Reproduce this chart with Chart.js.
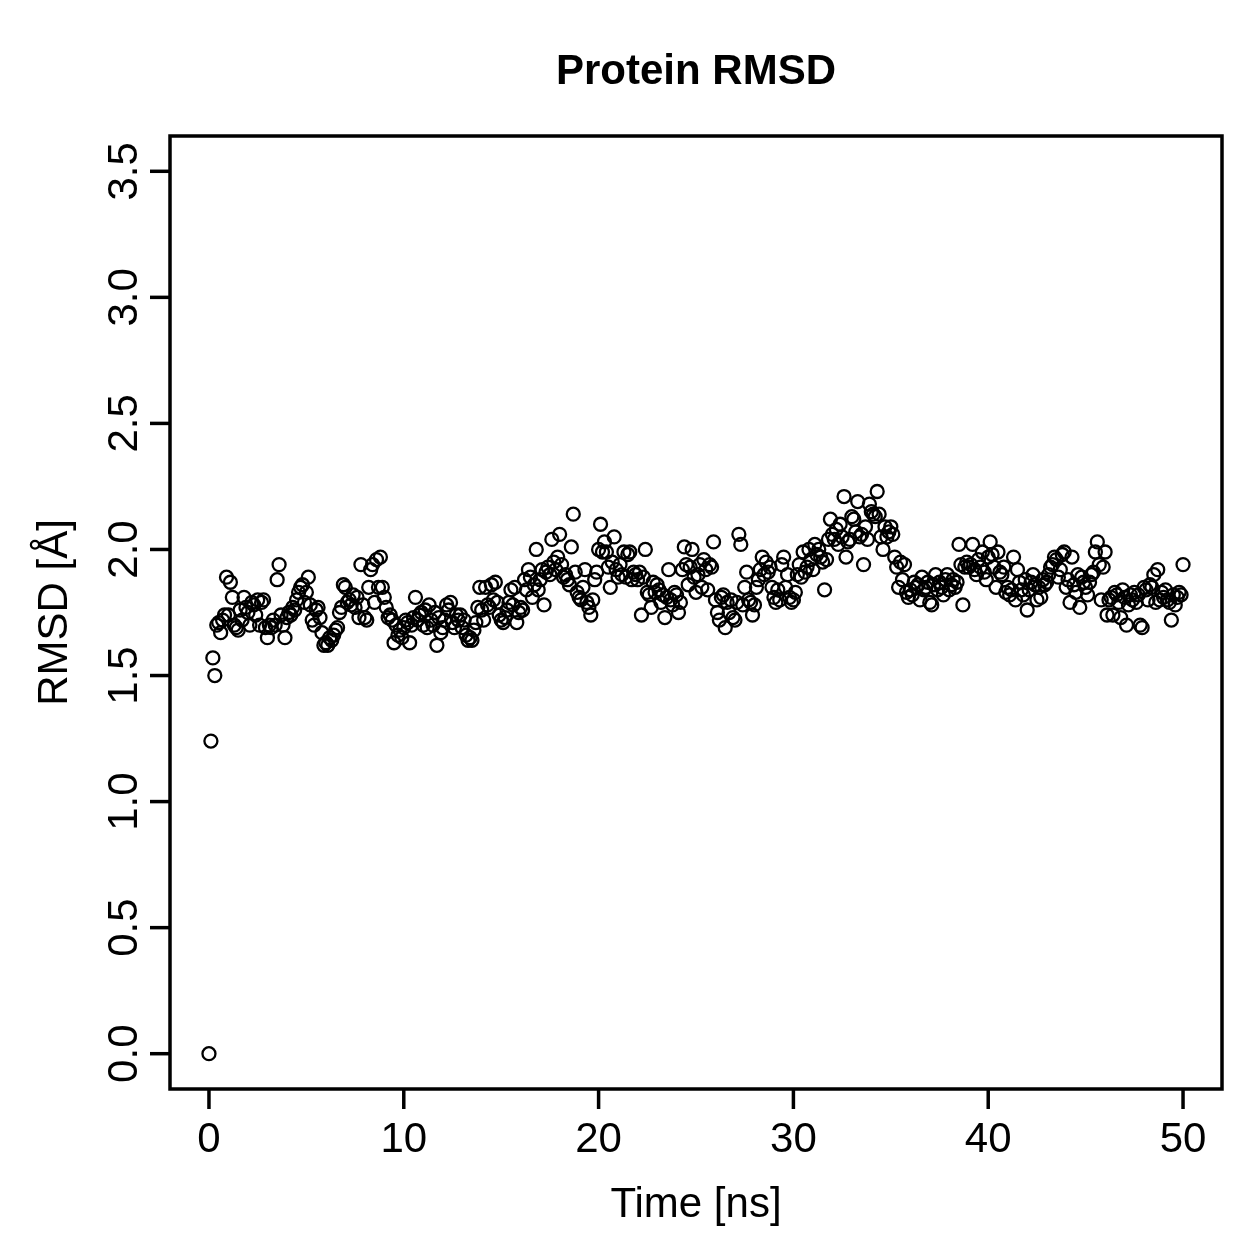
<!DOCTYPE html>
<html>
<head>
<meta charset="utf-8">
<script src="https://cdn.jsdelivr.net/npm/chart.js@4/dist/chart.umd.min.js"></script>
<style>
  html, body { margin: 0; padding: 0; background: #fff; }
  canvas { display: block; }
</style>
</head>
<body>
<canvas id="rmsdChart" width="1259" height="1259"></canvas>
<script>
// Protein RMSD over 50 ns, one frame every 0.1 ns
var chartTitle = "Protein RMSD";
var xTitle = "Time [ns]";
var yTitle = "RMSD [Å]";
var xTicks = [0, 10, 20, 30, 40, 50];
var yTicks = [0.0, 0.5, 1.0, 1.5, 2.0, 2.5, 3.0, 3.5];
var timeStep = 0.1;

var rmsd = [
    0.00, 1.24, 1.57, 1.50, 1.70, 1.71, 1.67, 1.72, 1.74, 1.89,
    1.74, 1.87, 1.81, 1.70, 1.69, 1.68, 1.76, 1.72, 1.81, 1.77,
    1.75, 1.70, 1.79, 1.78, 1.74, 1.80, 1.70, 1.79, 1.80, 1.69,
    1.65, 1.70, 1.69, 1.72, 1.70, 1.88, 1.94, 1.74, 1.70, 1.65,
    1.73, 1.75, 1.74, 1.77, 1.76, 1.80, 1.83, 1.85, 1.86, 1.79,
    1.83, 1.89, 1.78, 1.72, 1.70, 1.76, 1.77, 1.73, 1.67, 1.62,
    1.63, 1.62, 1.65, 1.64, 1.66, 1.68, 1.69, 1.75, 1.77, 1.86,
    1.85, 1.79, 1.80, 1.78, 1.82, 1.77, 1.81, 1.73, 1.94, 1.78,
    1.73, 1.72, 1.85, 1.92, 1.94, 1.79, 1.96, 1.85, 1.97, 1.85,
    1.81, 1.77, 1.73, 1.74, 1.72, 1.63, 1.70, 1.66, 1.68, 1.65,
    1.69, 1.72, 1.71, 1.63, 1.70, 1.73, 1.81, 1.72, 1.74, 1.75,
    1.70, 1.76, 1.69, 1.78, 1.72, 1.70, 1.75, 1.62, 1.73, 1.67,
    1.69, 1.72, 1.78, 1.76, 1.79, 1.71, 1.69, 1.74, 1.72, 1.74,
    1.69, 1.72, 1.66, 1.64, 1.65, 1.64, 1.68, 1.71, 1.77, 1.85,
    1.76, 1.72, 1.85, 1.78, 1.77, 1.86, 1.80, 1.87, 1.79, 1.74,
    1.72, 1.71, 1.73, 1.76, 1.79, 1.84, 1.78, 1.85, 1.71, 1.75,
    1.77, 1.76, 1.88, 1.84, 1.92, 1.89, 1.81, 1.86, 2.00, 1.84,
    1.88, 1.92, 1.78, 1.91, 1.93, 1.90, 2.04, 1.95, 1.92, 1.97,
    2.06, 1.94, 1.89, 1.90, 1.88, 1.86, 2.01, 2.14, 1.91, 1.83,
    1.81, 1.80, 1.85, 1.92, 1.79, 1.77, 1.74, 1.80, 1.88, 1.91,
    2.00, 2.10, 1.99, 2.03, 1.99, 1.93, 1.85, 1.95, 2.05, 1.92,
    1.89, 1.94, 1.90, 1.99, 1.89, 1.98, 1.99, 1.88, 1.91, 1.90,
    1.88, 1.91, 1.74, 1.89, 2.00, 1.83, 1.82, 1.77, 1.87, 1.83,
    1.86, 1.84, 1.79, 1.82, 1.73, 1.81, 1.92, 1.80, 1.78, 1.83,
    1.82, 1.75, 1.79, 1.92, 2.01, 1.94, 1.86, 1.93, 2.00, 1.89,
    1.83, 1.90, 1.94, 1.85, 1.96, 1.92, 1.84, 1.94, 1.93, 2.03,
    1.80, 1.75, 1.72, 1.81, 1.82, 1.69, 1.79, 1.75, 1.80, 1.73,
    1.72, 1.79, 2.06, 2.02, 1.78, 1.85, 1.91, 1.80, 1.79, 1.74,
    1.78, 1.85, 1.88, 1.92, 1.97, 1.90, 1.95, 1.91, 1.93, 1.85,
    1.81, 1.79, 1.84, 1.80, 1.94, 1.97, 1.85, 1.90, 1.81, 1.79,
    1.80, 1.83, 1.90, 1.94, 1.89, 1.99, 1.91, 1.93, 2.00, 1.96,
    1.92, 2.02, 1.98, 2.00, 1.97, 1.95, 1.84, 1.96, 2.04, 2.12,
    2.06, 2.04, 2.08, 2.02, 2.10, 2.05, 2.21, 1.97, 2.03, 2.04,
    2.13, 2.12, 2.07, 2.19, 2.05, 2.06, 1.94, 2.09, 2.04, 2.18,
    2.15, 2.14, 2.13, 2.23, 2.14, 2.05, 2.00, 2.09, 2.05, 2.07,
    2.09, 2.06, 1.97, 1.93, 1.85, 1.95, 1.88, 1.94, 1.83, 1.81,
    1.84, 1.82, 1.87, 1.85, 1.86, 1.80, 1.89, 1.84, 1.85, 1.87,
    1.79, 1.78, 1.86, 1.90, 1.84, 1.87, 1.85, 1.82, 1.88, 1.90,
    1.84, 1.86, 1.88, 1.85, 1.87, 2.02, 1.94, 1.78, 1.93, 1.95,
    1.93, 1.94, 2.02, 1.92, 1.90, 1.96, 1.93, 1.99, 1.91, 1.88,
    1.97, 2.03, 1.98, 1.93, 1.85, 1.99, 1.91, 1.90, 1.93, 1.83,
    1.85, 1.82, 1.84, 1.97, 1.80, 1.92, 1.87, 1.84, 1.82, 1.88,
    1.76, 1.84, 1.87, 1.90, 1.86, 1.80, 1.85, 1.81, 1.88, 1.86,
    1.87, 1.90, 1.93, 1.94, 1.97, 1.96, 1.89, 1.92, 1.98, 1.99,
    1.85, 1.88, 1.79, 1.97, 1.86, 1.83, 1.90, 1.77, 1.89, 1.87,
    1.85, 1.82, 1.87, 1.90, 1.91, 1.99, 2.03, 1.94, 1.80, 1.93,
    1.99, 1.74, 1.80, 1.81, 1.74, 1.83, 1.82, 1.79, 1.73, 1.84,
    1.81, 1.70, 1.78, 1.82, 1.80, 1.83, 1.79, 1.82, 1.70, 1.69,
    1.85, 1.84, 1.80, 1.86, 1.85, 1.90, 1.79, 1.92, 1.80, 1.83,
    1.81, 1.84, 1.80, 1.79, 1.72, 1.82, 1.78, 1.81, 1.83, 1.82,
    1.94
];

var points = rmsd.map(function(v, i) {
    return { x: Math.round(i * timeStep * 10) / 10, y: v };
});

// R-style box, ticks and labels drawn against the chart's own scales
var rFrame = {
    id: "rFrame",
    afterDraw: function(chart) {
        var ctx = chart.ctx;
        var a = chart.chartArea;
        var xs = chart.scales.x;
        var ys = chart.scales.y;
        var font = "42px 'Liberation Sans', Arial, sans-serif";
        ctx.save();
        ctx.strokeStyle = "#000";
        ctx.fillStyle = "#000";
        ctx.lineWidth = 3.5;
        ctx.strokeRect(a.left, a.top, a.right - a.left, a.bottom - a.top);

        ctx.font = font;
        ctx.textAlign = "center";
        ctx.textBaseline = "alphabetic";
        xTicks.forEach(function(v) {
            var px = xs.getPixelForValue(v);
            ctx.beginPath();
            ctx.moveTo(px, a.bottom);
            ctx.lineTo(px, a.bottom + 20);
            ctx.stroke();
            ctx.fillText(String(v), px, a.bottom + 63);
        });

        yTicks.forEach(function(v) {
            var py = ys.getPixelForValue(v);
            ctx.beginPath();
            ctx.moveTo(a.left, py);
            ctx.lineTo(a.left - 20, py);
            ctx.stroke();
            ctx.save();
            ctx.translate(a.left - 33, py);
            ctx.rotate(-Math.PI / 2);
            ctx.fillText(v.toFixed(1), 0, 0);
            ctx.restore();
        });

        var cx = (a.left + a.right) / 2;
        var cy = (a.top + a.bottom) / 2;
        ctx.fillText(xTitle, cx, a.bottom + 128);

        ctx.save();
        ctx.translate(67, cy);
        ctx.rotate(-Math.PI / 2);
        ctx.fillText(yTitle, 0, 0);
        ctx.restore();

        ctx.font = "bold 42px 'Liberation Sans', Arial, sans-serif";
        ctx.fillText(chartTitle, cx, 84);
        ctx.restore();
    }
};

var ctx1 = document.getElementById("rmsdChart").getContext("2d");
var rmsdChart = new Chart(ctx1, {
    type: "scatter",
    data: {
        datasets: [{
            label: "RMSD",
            data: points,
            borderColor: "#000",
            backgroundColor: "rgba(0,0,0,0)"
        }]
    },
    options: {
        responsive: false,
        animation: false,
        devicePixelRatio: 1,
        layout: { padding: { left: 170, right: 37, top: 136, bottom: 170 } },
        elements: {
            point: {
                pointStyle: "circle",
                radius: 6.5,
                hoverRadius: 6.5,
                borderWidth: 2.3,
                borderColor: "#000",
                backgroundColor: "rgba(0,0,0,0)"
            }
        },
        plugins: {
            legend: { display: false },
            tooltip: { enabled: false },
            title: { display: false }
        },
        scales: {
            x: { type: "linear", min: -2, max: 52, display: false },
            y: { type: "linear", min: -0.14, max: 3.64, display: false }
        }
    },
    plugins: [rFrame]
});
</script>
</body>
</html>
